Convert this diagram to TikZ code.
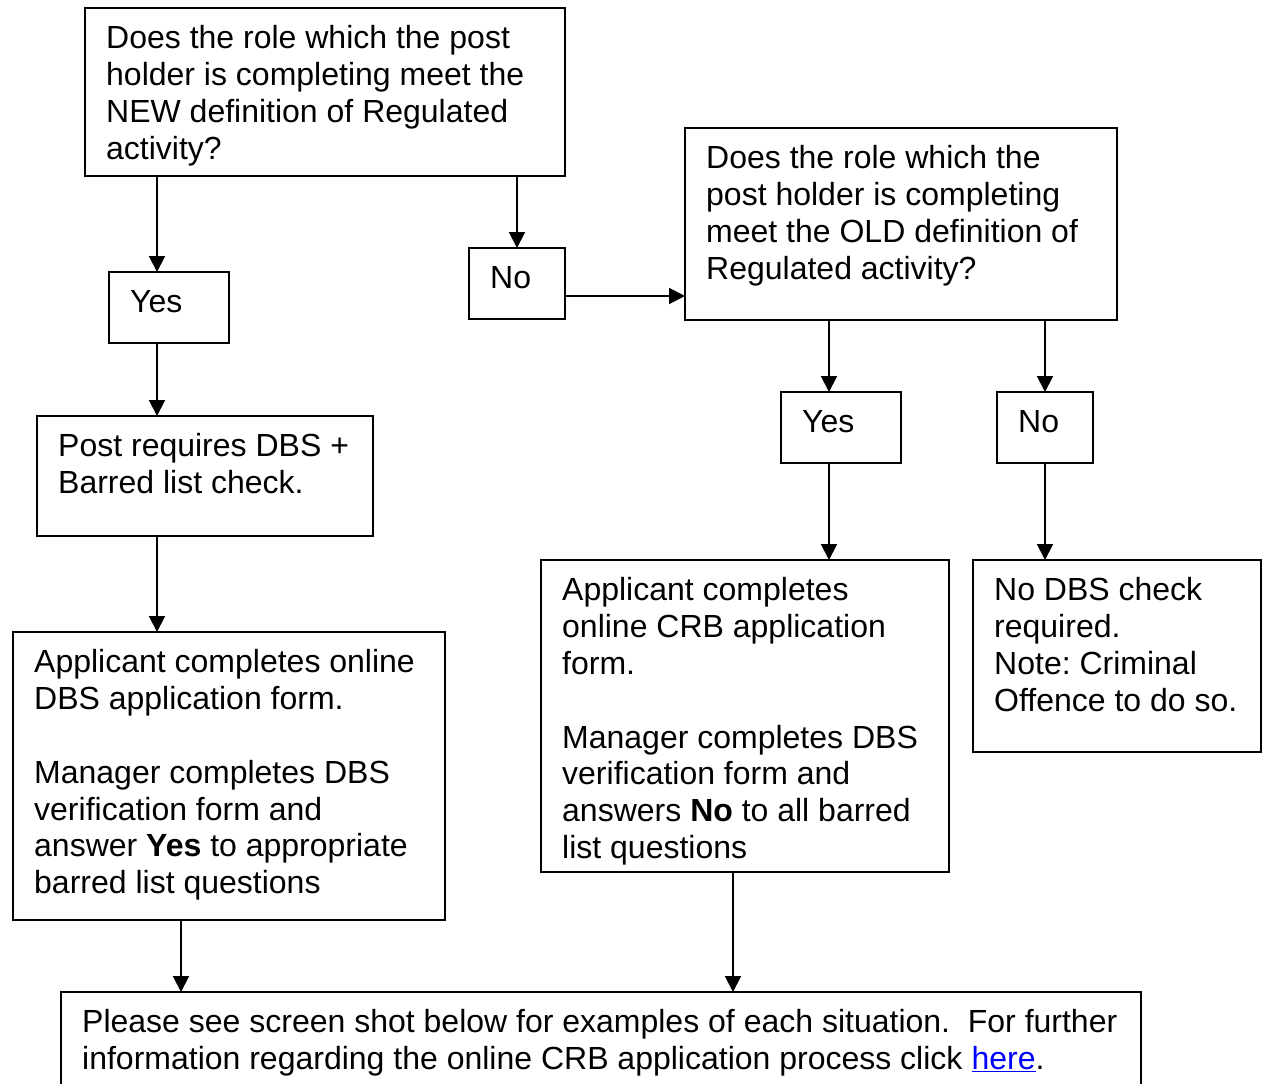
\documentclass[tikz,border=0pt]{standalone}
\usepackage{fontspec}
\setmainfont{Liberation Sans}
\usetikzlibrary{calc,arrows.meta}
\frenchspacing
\begin{document}
\begin{tikzpicture}[x=1pt,y=-1pt,
  box/.style={draw,line width=2pt,inner sep=0pt,outer sep=0pt,anchor=north west},
  txt/.style={anchor=north west,inner sep=0pt,align=left,font=\fontsize{32}{36.8}\selectfont},
  arr/.style={line width=2pt,-{Triangle[length=16pt,width=16pt]}}]
\useasboundingbox (0,0) rectangle (1267,1084);
\fill[white] (0,0) rectangle (1267,1084);
\clip (0,0) rectangle (1267,1084);
% boxes
\node[box,minimum width=480,minimum height=168] (b1) at (85,8) {};
\node[box,minimum width=120,minimum height=71] (yes1) at (109,272) {};
\node[box,minimum width=96,minimum height=71] (no1) at (469,248) {};
\node[box,minimum width=432,minimum height=192] (b2) at (685,128) {};
\node[box,minimum width=336,minimum height=120] (post) at (37,416) {};
\node[box,minimum width=432,minimum height=288] (app1) at (13,632) {};
\node[box,minimum width=120,minimum height=71] (yes2) at (781,392) {};
\node[box,minimum width=96,minimum height=71] (no2) at (997,392) {};
\node[box,minimum width=408,minimum height=312] (app2) at (541,560) {};
\node[box,minimum width=288,minimum height=192] (nodbs) at (973,560) {};
\node[box,minimum width=1080,minimum height=130] (bot) at (61,992) {};
% texts
\node[txt] (t1) at ($(b1.north west)+(21,15)$) {\strut Does the role which the post\\holder is completing meet the\\NEW definition of Regulated\\activity?};
\node[txt] (tyes1) at ($(yes1.north west)+(21,15)$) {\strut Yes};
\node[txt] (tno1) at ($(no1.north west)+(21,15)$) {\strut No};
\node[txt] (t2) at ($(b2.north west)+(21,15)$) {\strut Does the role which the\\post holder is completing\\meet the OLD definition of\\Regulated activity?};
\node[txt] (tpost) at ($(post.north west)+(21,15)$) {\strut Post requires DBS +\\Barred list check.};
\node[txt] (tapp1) at ($(app1.north west)+(21,15)$) {\strut Applicant completes online\\DBS application form.\\[36.8pt]Manager completes DBS\\verification form and\\answer \textbf{Yes} to appropriate\\barred list questions};
\node[txt] (tyes2) at ($(yes2.north west)+(21,15)$) {\strut Yes};
\node[txt] (tno2) at ($(no2.north west)+(21,15)$) {\strut No};
\node[txt] (tapp2) at ($(app2.north west)+(21,15)$) {\strut Applicant completes\\online CRB application\\form.\\[36.8pt]Manager completes DBS\\verification form and\\answers \textbf{No} to all barred\\list questions};
\node[txt] (tnodbs) at ($(nodbs.north west)+(21,15)$) {\strut No DBS check\\required.\\Note: Criminal\\Offence to do so.};
\node[txt] (tbot) at ($(bot.north west)+(21,15)$) {\strut Please see screen shot below for examples of each situation.\ \ For further\\information regarding the online CRB application process click \textcolor{blue}{\underline{here}}.};
% arrows
\draw[arr] ($(b1.south west)+(72,0)$) -- ($(yes1.north west)+(48,0)$);
\draw[arr] ($(yes1.south west)+(48,0)$) -- ($(post.north west)+(120,0)$);
\draw[arr] ($(post.south west)+(120,0)$) -- ($(app1.north west)+(144,0)$);
\draw[arr] ($(b1.south west)+(432,0)$) -- ($(no1.north west)+(48,0)$);
\draw[arr] ($(no1.north east)+(0,48)$) -- ($(b2.north west)+(0,168)$);
\draw[arr] ($(b2.south west)+(144,0)$) -- ($(yes2.north west)+(48,0)$);
\draw[arr] ($(b2.south west)+(360,0)$) -- ($(no2.north west)+(48,0)$);
\draw[arr] ($(yes2.south west)+(48,0)$) -- ($(app2.north west)+(288,0)$);
\draw[arr] ($(no2.south west)+(48,0)$) -- ($(nodbs.north west)+(72,0)$);
\draw[arr] ($(app1.south west)+(168,0)$) -- ($(bot.north west)+(120,0)$);
\draw[arr] ($(app2.south west)+(192,0)$) -- ($(bot.north west)+(672,0)$);
\end{tikzpicture}
\end{document}
